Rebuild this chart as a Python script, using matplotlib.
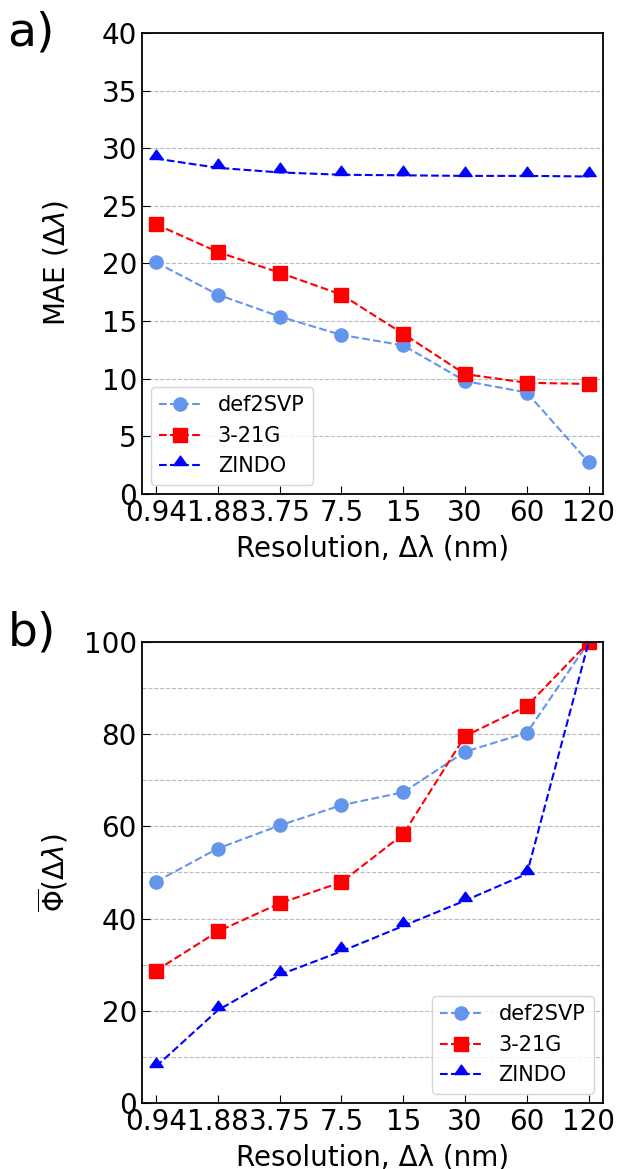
import numpy as np
import matplotlib
matplotlib.use('Agg')
import matplotlib.pyplot as plt
from matplotlib.ticker import MultipleLocator

# resolution categories (nm)
res_labels = ['0.94', '1.88', '3.75', '7.5', '15', '30', '60', '120']
methods = ['def2SVP', '3-21G', 'ZINDO']

# a) MAE vs resolution
mae_def2svp = [20.1, 17.3, 15.4, 13.8, 12.9, 9.8, 8.8, 2.75]
mae_321g = [23.4, 21.0, 19.2, 17.3, 13.9, 10.4, 9.65, 9.55]
mae_zindo = [29.1, 28.3, 27.9, 27.7, 27.65, 27.6, 27.6, 27.55]

# b) mean phi vs resolution
phi_def2svp = [48.0, 55.2, 60.2, 64.6, 67.4, 76.2, 80.3, 100.0]
phi_321g = [28.7, 37.2, 43.3, 47.9, 58.3, 79.6, 86.1, 100.0]
phi_zindo = [7.9, 20.1, 27.8, 32.9, 38.4, 43.9, 49.7, 100.0]

colors = ['cornflowerblue', 'red', 'blue']
# triangle sitting on its data point
tri = [(-1, 0), (1, 0), (0, 1.4), (-1, 0)]
markers = ['o', 's', tri]
sizes = [9.5, 9.5, 13.5]

x = np.arange(len(res_labels))

fig = plt.figure(figsize=(6.19, 11.69), dpi=100)
ax1 = fig.add_axes([0.229, 0.5774, 0.745, 0.3944])
ax2 = fig.add_axes([0.229, 0.0565, 0.745, 0.3943])

for ys, c, m, s, lab in zip([mae_def2svp, mae_321g, mae_zindo], colors, markers, sizes, methods):
    ax1.plot(x, ys, linestyle='--', color=c, marker=m, markersize=s, lw=1.5, label=lab)
for ys, c, m, s, lab in zip([phi_def2svp, phi_321g, phi_zindo], colors, markers, sizes, methods):
    ax2.plot(x, ys, linestyle='--', color=c, marker=m, markersize=s, lw=1.5, label=lab)

ax1.set_ylim(0, 40)
ax1.yaxis.set_major_locator(MultipleLocator(5))
ax1.set_ylabel(r'MAE ($\Delta\lambda$)', fontsize=20)
ax1.legend(loc='lower left', fontsize=15, borderaxespad=0.45)

ax2.set_ylim(0, 100)
ax2.yaxis.set_major_locator(MultipleLocator(20))
ax2.yaxis.set_minor_locator(MultipleLocator(10))
ax2.set_ylabel(r'$\overline{\Phi}(\Delta\lambda)$', fontsize=20)
ax2.legend(loc='lower right', fontsize=15, borderaxespad=0.45)
ax2.grid(axis='y', which='minor', linestyle='--', color='#bbbbbb', lw=0.8)
ax2.tick_params(axis='y', which='minor', length=0)

for ax in [ax1, ax2]:
    ax.set_xlim(-0.23, 7.23)
    ax.set_xticks(x)
    ax.set_xticklabels(res_labels)
    ax.set_xlabel(r'Resolution, Δλ (nm)', fontsize=20, labelpad=5.5)
    ax.yaxis.set_label_coords(-0.155, 0.5)
    ax.tick_params(axis='both', which='major', direction='in', length=6, labelsize=20)
    ax.grid(axis='y', which='major', linestyle='--', color='#bbbbbb', lw=0.8)
    ax.set_axisbelow(True)
    for sp in ax.spines.values():
        sp.set_linewidth(1.3)

fig.text(0.012, 0.991, 'a)', fontsize=34, va='top')
fig.text(0.012, 0.478, 'b)', fontsize=34, va='top')

fig.savefig('out.png', dpi=100)
